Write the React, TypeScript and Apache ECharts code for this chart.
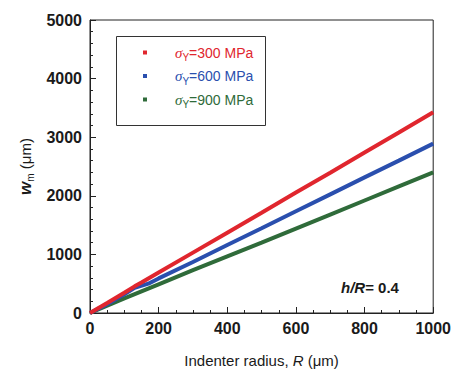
import React, { useEffect, useRef } from "react";
import * as echarts from "echarts";

const seriesNames = ["300", "600", "900"];
const seriesColors = ["#e0262e", "#2a4fae", "#2f6b3a"];

const redData: [number, number][] = [
  [0, 0], [50, 170], [100, 345], [130, 455], [150, 520], [200, 690], [300, 1030],
  [400, 1370], [500, 1710], [600, 2055], [700, 2395], [800, 2740], [900, 3080], [1000, 3425],
];
const blueData: [number, number][] = [
  [0, 0], [50, 150], [100, 320], [130, 430], [170, 500], [200, 590], [300, 870],
  [400, 1160], [500, 1445], [600, 1735], [700, 2025], [800, 2315], [900, 2600], [1000, 2890],
];
const greenData: [number, number][] = [
  [0, 0], [50, 125], [100, 250], [150, 370], [200, 490], [300, 730], [400, 965],
  [500, 1200], [600, 1440], [700, 1680], [800, 1920], [900, 2160], [1000, 2400],
];
const allData = [redData, blueData, greenData];

const xTicks = { min: 0, max: 1000, interval: 200 };
const yTicks = { min: 0, max: 5000, interval: 1000 };

const FONT = "'Liberation Sans', Arial, sans-serif";

export default function App() {
  const ref = useRef<HTMLDivElement>(null);
  useEffect(() => {
    if (!ref.current) return;
    const chart = echarts.init(ref.current, null, { renderer: "svg" });
    const legendRich: any = {};
    seriesColors.forEach((c, i) => {
      legendRich["g" + i] = { width: 23 };
      legendRich["s" + i] = { color: c, fontStyle: "italic", fontSize: 15, fontFamily: "'Liberation Serif', serif", lineHeight: 20 };
      legendRich["b" + i] = { color: c, fontSize: 10, lineHeight: 10, padding: [6, 0, 0, 0], verticalAlign: "bottom", fontFamily: FONT };
      legendRich["t" + i] = { color: c, fontSize: 14, lineHeight: 20, fontFamily: FONT };
    });
    chart.setOption({
      animation: false,
      textStyle: { fontFamily: FONT },
      grid: {
        left: 90, right: 20, top: 20, bottom: 56,
        show: true, borderColor: "#222", borderWidth: 1, backgroundColor: "transparent",
      },
      xAxis: {
        type: "value",
        min: xTicks.min, max: xTicks.max, interval: xTicks.interval,
        axisLine: { show: true, lineStyle: { color: "#222", width: 1 } },
        axisTick: { show: true, inside: true, length: 6, lineStyle: { color: "#222" } },
        minorTick: { show: true, splitNumber: 4, length: 3, lineStyle: { color: "#222" } },
        splitLine: { show: false },
        axisLabel: { color: "#1a1a1a", fontSize: 16, fontWeight: "bold", margin: 7, fontFamily: FONT, formatter: (v: number) => String(v) },
        name: "{a|Indenter radius, }{i|R}{a| (μm)}",
        nameLocation: "middle",
        nameGap: 40,
        nameTextStyle: {
          rich: {
            a: { fontSize: 15, color: "#1a1a1a", fontFamily: FONT },
            i: { fontSize: 15, color: "#1a1a1a", fontStyle: "italic", fontFamily: FONT },
          },
        },
      },
      yAxis: {
        type: "value",
        min: yTicks.min, max: yTicks.max, interval: yTicks.interval,
        axisLine: { show: true, lineStyle: { color: "#222", width: 1 } },
        axisTick: { show: true, inside: true, length: 6, lineStyle: { color: "#222" } },
        minorTick: { show: true, splitNumber: 5, length: 3, lineStyle: { color: "#222" } },
        splitLine: { show: false },
        axisLabel: { color: "#1a1a1a", fontSize: 16, fontWeight: "bold", margin: 8, fontFamily: FONT, formatter: (v: number) => String(v) },
        name: "{w|w}{m|m}{a| (μm)}",
        nameLocation: "middle",
        nameGap: 54,
        nameRotate: 90,
        nameTextStyle: {
          rich: {
            w: { fontSize: 17, color: "#1a1a1a", fontStyle: "italic", fontWeight: "bold", lineHeight: 20, fontFamily: FONT },
            m: { fontSize: 10, color: "#1a1a1a", lineHeight: 10, verticalAlign: "bottom", fontFamily: FONT },
            a: { fontSize: 15, color: "#1a1a1a", lineHeight: 20, fontFamily: FONT },
          },
        },
      },
      legend: {
        orient: "vertical",
        left: 143,
        top: 45,
        itemGap: 6,
        itemWidth: 4,
        itemHeight: 4,
        icon: "rect",
        padding: 0,
        data: seriesNames.map((n) => ({ name: n })),
        formatter: (name: string) => {
          const i = seriesNames.indexOf(name);
          return `{g${i}|}{s${i}|σ}{b${i}|Y}{t${i}|=${name} MPa}`;
        },
        textStyle: { rich: legendRich, padding: 0 },
      },
      graphic: [
        {
          type: "rect",
          shape: { x: 116.5, y: 36.5, width: 149, height: 89 },
          style: { fill: "transparent", stroke: "#333", lineWidth: 1 },
          z: 10,
        },
        {
          type: "text",
          left: 341,
          top: 280,
          style: {
            text: "{i|h/R}{a|= 0.4}",
            rich: {
              i: { fontSize: 15, fontStyle: "italic", fontWeight: "bold", fill: "#1a1a1a", fontFamily: FONT },
              a: { fontSize: 15, fontWeight: "bold", fill: "#1a1a1a", fontFamily: FONT },
            },
          },
        },
      ],
      series: allData.map((d, i) => ({
        name: seriesNames[i],
        type: "line",
        data: d,
        showSymbol: false,
        symbol: "rect",
        itemStyle: { color: seriesColors[i] },
        lineStyle: { color: seriesColors[i], width: 4 },
        z: 3 - i,
      })),
    });
    return () => chart.dispose();
  }, []);
  return (
    <div
      ref={ref}
      style={{ position: "fixed", left: 0, top: 0, width: 454, height: 373, background: "#fff" }}
    />
  );
}
